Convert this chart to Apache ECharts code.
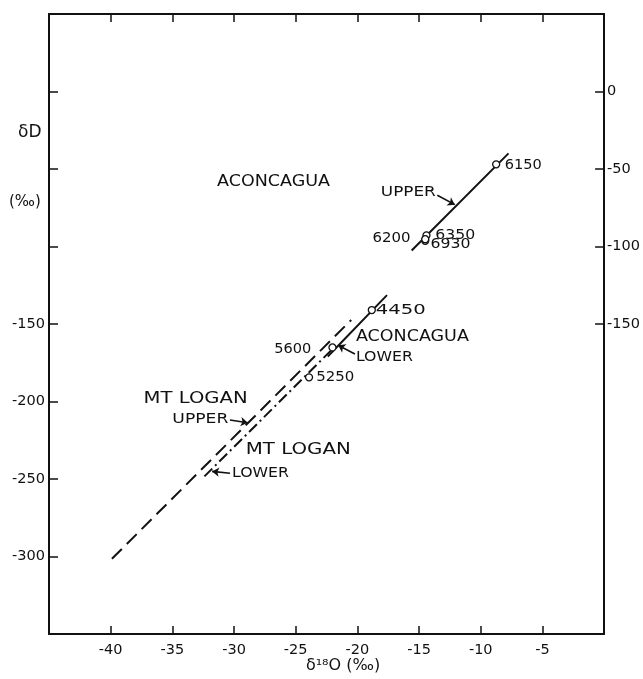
<!DOCTYPE html>
<html><head><meta charset="utf-8">
<script src="https://cdn.jsdelivr.net/npm/echarts@6/dist/echarts.min.js"></script>
<style>html,body{margin:0;padding:0;background:#fff}#c{width:643px;height:679px}</style>
</head><body><div id="c"></div>
<script>
// ---- axis ticks ----
const xTickLabels = [-40, -35, -30, -25, -20, -15, -10, -5];
const yLeftTickLabels = [-300, -250, -200, -150];
const yLeftTicks = [-300, -250, -200, -150, -100, -50, 0];
const yRightTickLabels = [-150, -100, -50, 0];

// ---- regression lines [δ18O, δD] ----
const aconcaguaUpperLine = [[-15.6, -102.6], [-7.75, -39.9]];
const aconcaguaLowerLine = [[-22.4, -171.0], [-17.6, -131.4]];
const loganUpperLine = [[-39.9, -301.5], [-20.5, -147.4]];
const loganLowerLine = [[-32.4, -248.3], [-22.0, -166.0]];

// ---- samples (elevation, δ18O, δD) ----
const sampleElev = ['6150', '6350', '6930', '6200', '4450', '5600', '5250'];
const sampleX = [-8.75, -14.4, -14.5, -14.5, -18.83, -22.02, -23.92];
const sampleY = [-47.0, -92.8, -96.3, -95.3, -141.0, -165.1, -184.4];

// ---- annotations ----
const noteText = ['ACONCAGUA', 'UPPER', '6150', '6350', '6930', '6200', '4450',
  'ACONCAGUA', 'LOWER', '5600', '5250', 'MT LOGAN', 'UPPER', 'MT LOGAN', 'LOWER'];
const noteX = [-31.38, -18.1, -8.05, -13.68, -14.08, -15.69, -18.51,
  -20.12, -20.12, -23.74, -23.33, -37.33, -35.0, -29.05, -30.17];
const noteY = [-58.5, -64.9, -47.6, -92.9, -98.9, -95.1, -141.0,
  -158.3, -171.5, -166.2, -184.4, -198.1, -211.9, -231.4, -246.3];

const arrowFrom = [[-13.52, -66.9], [-20.2, -169.4], [-30.33, -211.9], [-30.33, -246.3]];
const arrowTo = [[-12.1, -73.0], [-21.56, -163.7], [-28.89, -213.7], [-31.78, -245.1]];

// ---- styles (not data) ----
const FONT = '"DejaVu Sans", "Liberation Sans", sans-serif';
const INK = '#111';
const noteStyle = [
  {size: 16, align: 'left', w: 113}, {size: 13.5, align: 'left', w: 55},
  {size: 13.5, align: 'left', w: 37}, {size: 13.5, align: 'left', w: 40},
  {size: 13.5, align: 'left', w: 40}, {size: 13.5, align: 'right', w: 38},
  {size: 13.5, align: 'left', w: 50}, {size: 16, align: 'left', w: 113},
  {size: 13.5, align: 'left', w: 57}, {size: 13.5, align: 'right', w: 37},
  {size: 13.5, align: 'left', w: 38}, {size: 16, align: 'left', w: 104},
  {size: 13.5, align: 'left', w: 56}, {size: 16, align: 'left', w: 105},
  {size: 13.5, align: 'left', w: 57}
];

const mctx = document.createElement('canvas').getContext('2d');
function measure(t, font) { mctx.font = font; return mctx.measureText(t).width; }

const chart = echarts.init(document.getElementById('c'), null, {renderer: 'canvas'});

const axisLine = {show: true, onZero: false, lineStyle: {color: INK, width: 2}};
const tickStyle = {color: INK, width: 1.5};
const labelStyle = {color: INK, fontSize: 14.5, fontFamily: FONT};

const option = {
  animation: false,
  backgroundColor: '#fff',
  grid: {left: 49, right: 35, top: 14, bottom: 45, containLabel: false},
  xAxis: [
    {type: 'value', position: 'bottom', min: -45, max: 0, interval: 5,
      axisLine: axisLine,
      axisTick: {show: true, inside: true, length: 8, customValues: xTickLabels, lineStyle: tickStyle},
      axisLabel: Object.assign({customValues: xTickLabels, margin: 9, formatter: v => '-' + Math.abs(v)}, labelStyle),
      splitLine: {show: false}},
    {type: 'value', position: 'top', min: -45, max: 0, interval: 5,
      axisLine: axisLine,
      axisTick: {show: true, inside: true, length: 8, customValues: xTickLabels, lineStyle: tickStyle},
      axisLabel: {show: false}, splitLine: {show: false}}
  ],
  yAxis: [
    {type: 'value', position: 'left', min: -350, max: 50, interval: 50,
      axisLine: axisLine,
      axisTick: {show: true, inside: true, length: 9, customValues: yLeftTicks, lineStyle: tickStyle},
      axisLabel: Object.assign({customValues: yLeftTickLabels, margin: 4}, labelStyle),
      splitLine: {show: false}},
    {type: 'value', position: 'right', min: -350, max: 50, interval: 50,
      axisLine: axisLine,
      axisTick: {show: true, inside: true, length: 9, customValues: yRightTickLabels, lineStyle: tickStyle},
      axisLabel: Object.assign({customValues: yRightTickLabels, margin: 3}, labelStyle),
      splitLine: {show: false}}
  ],
  graphic: [
    {type: 'text', left: 18, top: 124, style: {text: 'δD', font: '17px ' + FONT, fill: INK}},
    {type: 'text', left: 9, top: 195, style: {text: '(‰)', font: '15px ' + FONT, fill: INK}},
    {type: 'text', x: 343, y: 666, style: {text: 'δ¹⁸O (‰)', font: '16px ' + FONT, fill: INK, align: 'center', verticalAlign: 'middle'}}
  ],
  series: [
    {name: 'Aconcagua upper', type: 'line', data: aconcaguaUpperLine, showSymbol: false, silent: true,
      lineStyle: {color: INK, width: 2}, z: 2},
    {name: 'Aconcagua lower', type: 'line', data: aconcaguaLowerLine, showSymbol: false, silent: true,
      lineStyle: {color: INK, width: 2}, z: 2},
    {name: 'Mt Logan upper', type: 'line', data: loganUpperLine, showSymbol: false, silent: true,
      lineStyle: {color: INK, width: 2, type: [14, 7]}, z: 2},
    {name: 'Mt Logan lower', type: 'line', data: loganLowerLine, showSymbol: false, silent: true,
      lineStyle: {color: INK, width: 2, type: [11, 4, 2, 4]}, z: 2},
    {name: 'arrows', type: 'lines', coordinateSystem: 'cartesian2d', silent: true,
      symbol: ['none', 'arrow'], symbolSize: 7,
      lineStyle: {color: INK, width: 1.6, opacity: 1, curveness: 0},
      data: arrowFrom.map((f, i) => ({coords: [f, arrowTo[i]]})), z: 3},
    {name: 'samples', type: 'scatter', symbol: 'circle', symbolSize: 7, silent: true,
      itemStyle: {color: '#fff', borderColor: INK, borderWidth: 1.3, opacity: 1},
      data: sampleX.map((x, i) => [x, sampleY[i], sampleElev[i]]), z: 4},
    {name: 'notes', type: 'custom', silent: true, z: 5,
      data: noteText.map((t, i) => [noteX[i], noteY[i], i]),
      encode: {x: 0, y: 1},
      renderItem: function (params, api) {
        const i = api.value(2);
        const p = api.coord([api.value(0), api.value(1)]);
        const st = noteStyle[i];
        const font = st.size + 'px ' + FONT;
        const w = measure(noteText[i], font);
        return {type: 'text', x: p[0], y: p[1], scaleX: st.w / w,
          style: {text: noteText[i], font: font, fill: INK, align: st.align, verticalAlign: 'middle'}};
      }}
  ]
};
chart.setOption(option);
</script>
</body></html>
